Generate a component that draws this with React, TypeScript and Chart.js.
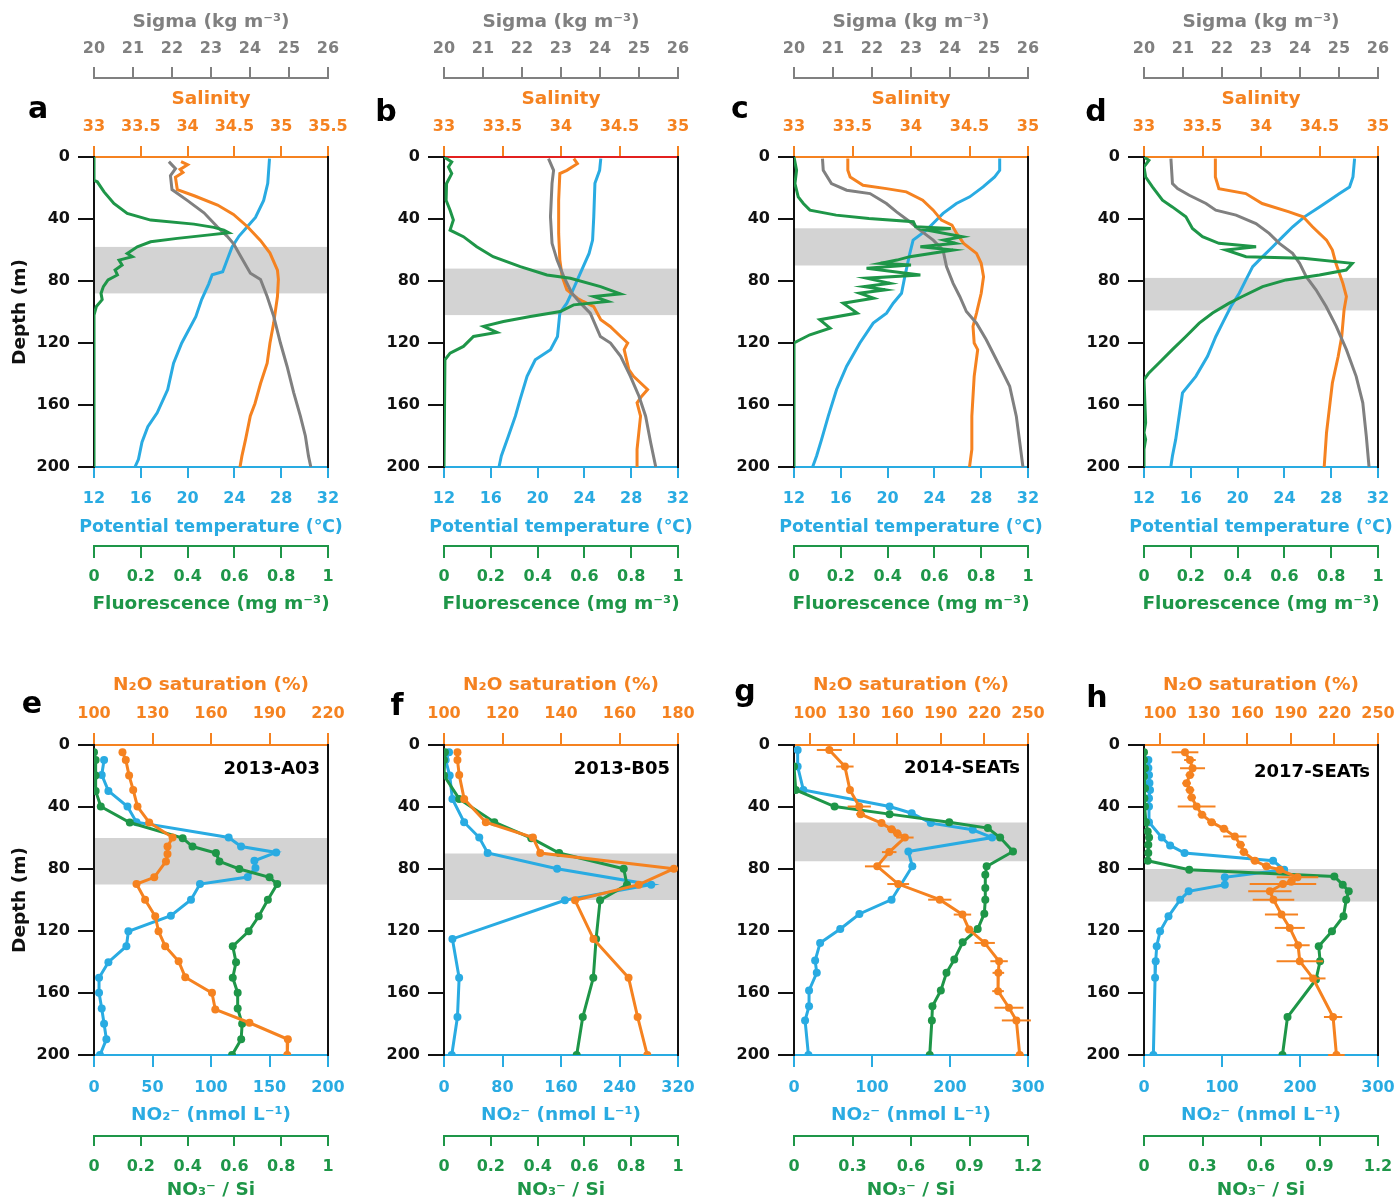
import React, { useEffect, useRef } from "react";
import { Chart, registerables } from "chart.js";

Chart.register(...registerables);

// ---------- tick labels ----------
const SIGMA_TICKS = [20, 21, 22, 23, 24, 25, 26];
const SAL_TICKS_A = [33, 33.5, 34, 34.5, 35, 35.5];
const SAL_TICKS = [33, 33.5, 34, 34.5, 35];
const TEMP_TICKS = [12, 16, 20, 24, 28, 32];
const FLUOR_TICKS = [0, 0.2, 0.4, 0.6, 0.8, 1];
const N2O_TICKS_E = [100, 130, 160, 190, 220];
const N2O_TICKS_F = [100, 120, 140, 160, 180];
const N2O_TICKS_GH = [100, 130, 160, 190, 220, 250];
const NO2_TICKS_E = [0, 50, 100, 150, 200];
const NO2_TICKS_F = [0, 80, 160, 240, 320];
const NO2_TICKS_GH = [0, 100, 200, 300];
const NO3_TICKS_EF = [0, 0.2, 0.4, 0.6, 0.8, 1];
const NO3_TICKS_GH = [0, 0.3, 0.6, 0.9, 1.2];

// ---------- shaded depth bands ----------
const BAND_A = [58, 88];
const BAND_B = [72, 102];
const BAND_C = [46, 70];
const BAND_D = [78, 99];
const BAND_E = [60, 90];
const BAND_F = [70, 100];
const BAND_G = [50, 75];
const BAND_H = [80, 101];

// ---------- panel a ----------
const aTempD = [1, 17, 28, 39, 45, 51, 58, 66, 74, 76, 82, 92, 103, 120, 133, 150, 165, 174, 184, 195, 200];
const aTempV = [27.0, 26.85, 26.5, 25.8, 25.1, 24.4, 23.8, 23.4, 23.0, 22.1, 21.8, 21.2, 20.7, 19.5, 18.8, 18.3, 17.4, 16.6, 16.1, 15.8, 15.5];
const aSalD = [3, 5, 8, 10, 13, 21, 25, 31, 37, 45, 54, 62, 73, 79, 90, 107, 120, 133, 146, 159, 167, 182, 193, 200];
const aSalV = [33.93, 34.0, 33.92, 33.95, 33.87, 33.89, 34.07, 34.32, 34.49, 34.64, 34.78, 34.88, 34.96, 34.97, 34.96, 34.92, 34.88, 34.85, 34.78, 34.72, 34.67, 34.62, 34.58, 34.56];
const aSigD = [3, 7.5, 12, 21, 28, 36, 45, 51, 56, 64, 75, 79, 90, 103, 120, 135, 152, 167, 180, 193, 200];
const aSigV = [21.92, 22.09, 21.96, 22.0, 22.39, 22.82, 23.16, 23.41, 23.58, 23.76, 24.01, 24.27, 24.44, 24.61, 24.78, 24.95, 25.12, 25.29, 25.42, 25.5, 25.56];
const aFlD = [0, 15, 16, 22.5, 30, 36.4, 40.7, 43.3, 45.4, 47.2, 48.9, 50.4, 52.5, 54.7, 57.9, 62.2, 64.3, 66.5, 69.7, 72.9, 76.1, 79.3, 83.6, 88, 92, 96.5, 102, 200];
const aFlV = [0, 0, 0.014, 0.043, 0.085, 0.142, 0.242, 0.427, 0.512, 0.555, 0.576, 0.484, 0.356, 0.242, 0.185, 0.142, 0.164, 0.107, 0.12, 0.09, 0.1, 0.06, 0.04, 0.03, 0.035, 0.01, 0, 0];

// ---------- panel b ----------
const bTempD = [1, 8.6, 17, 38.6, 53.6, 62.2, 70.7, 79.3, 87.9, 94.3, 100.7, 115.8, 124.3, 130.8, 141.5, 156.5, 167.2, 180.1, 192.9, 200];
const bTempV = [25.4, 25.3, 24.9, 24.8, 24.7, 24.4, 23.9, 23.4, 22.9, 22.5, 21.9, 21.7, 21.1, 19.8, 19.1, 18.5, 18.1, 17.5, 16.9, 16.7];
const bSalD = [1, 4.3, 8.6, 10.7, 27.9, 49.3, 66.5, 77.2, 85.7, 91.1, 93.2, 96.5, 105, 109.3, 115.8, 120, 124.3, 137.2, 141.5, 150, 154.3, 158.6, 167.2, 188.6, 200];
const bSalV = [34.11, 34.14, 34.05, 33.99, 33.98, 33.98, 33.99, 34.01, 34.05, 34.14, 34.19, 34.28, 34.34, 34.42, 34.51, 34.57, 34.54, 34.58, 34.62, 34.74, 34.69, 34.65, 34.68, 34.65, 34.65];
const bSigD = [1, 8.6, 17, 38.6, 55.7, 66.5, 77.2, 87.9, 94.3, 100.7, 115.8, 120, 128.6, 141.5, 154.3, 167.2, 184.4, 200];
const bSigV = [22.68, 22.81, 22.77, 22.73, 22.77, 22.9, 23.07, 23.28, 23.5, 23.75, 24.01, 24.27, 24.53, 24.78, 25.0, 25.17, 25.3, 25.43];
const bFlD = [0, 3.2, 6.4, 10.7, 17.1, 27.9, 34.3, 40.7, 47.2, 51.4, 57.9, 64.3, 70.7, 76.1, 78.2, 83.6, 88.3, 90, 93.2, 95.4, 99.7, 102.9, 106.1, 109.3, 113.2, 115.8, 122.2, 126.5, 130.8, 200];
const bFlV = [0, 0.033, 0.019, 0.033, 0.011, 0.009, 0.026, 0.04, 0.026, 0.083, 0.14, 0.21, 0.326, 0.44, 0.54, 0.669, 0.754, 0.64, 0.7, 0.554, 0.497, 0.369, 0.254, 0.169, 0.226, 0.126, 0.083, 0.026, 0.004, 0];

// ---------- panel c ----------
const cTempD = [1, 8.6, 12.9, 19.3, 25.7, 30, 36.4, 41.8, 47.2, 53.6, 62.2, 77.2, 87.9, 94.3, 100.7, 107.2, 120, 135, 150, 167.2, 182.2, 192.9, 200];
const cTempV = [29.58, 29.58, 29.15, 28.16, 27.02, 25.88, 24.74, 24.03, 23.32, 22.18, 21.9, 21.47, 21.19, 20.48, 19.91, 18.77, 17.63, 16.5, 15.64, 14.93, 14.36, 13.93, 13.59];
const cSalD = [1, 8.6, 12.9, 18.2, 20.4, 22.5, 27.9, 34.3, 40.7, 43.9, 49.3, 55.7, 62.2, 68.6, 77.2, 87.9, 100.7, 109.3, 120, 124.3, 141.5, 167.2, 188.6, 200];
const cSalV = [33.46, 33.46, 33.48, 33.59, 33.79, 33.96, 34.1, 34.19, 34.26, 34.35, 34.39, 34.45, 34.56, 34.6, 34.62, 34.6, 34.56, 34.53, 34.54, 34.57, 34.54, 34.52, 34.52, 34.5];
const cSigD = [1, 8.6, 17.1, 21.4, 23.6, 30, 35.4, 41.8, 47.2, 53.6, 60, 70.7, 81.5, 90, 99.7, 107.2, 117.9, 130.8, 139.3, 147.9, 167.2, 184.4, 200];
const cSigV = [20.73, 20.75, 20.96, 21.35, 21.95, 22.37, 22.63, 22.97, 23.23, 23.57, 23.82, 23.91, 24.08, 24.25, 24.42, 24.68, 24.93, 25.19, 25.36, 25.53, 25.7, 25.79, 25.87];
const cFlD = [0, 8.6, 17.1, 25.7, 30, 34.3, 37.5, 39.7, 41.8, 45, 46.1, 47.2, 51.4, 53.6, 55.7, 57.9, 60, 64.3, 66.5, 68.6, 69.7, 71.8, 76.1, 78.2, 81.5, 83.6, 85.7, 87.9, 91.1, 94.3, 100.7, 105, 110.4, 114.7, 117.9, 120, 200];
const cFlV = [0, 0.011, 0.004, 0.018, 0.04, 0.068, 0.18, 0.32, 0.51, 0.52, 0.67, 0.57, 0.72, 0.64, 0.69, 0.54, 0.68, 0.495, 0.44, 0.37, 0.5, 0.31, 0.54, 0.31, 0.41, 0.3, 0.39, 0.28, 0.34, 0.21, 0.27, 0.11, 0.154, 0.068, 0.026, 0, 0];

// ---------- panel d ----------
const dTempD = [1, 12.9, 19.3, 23.6, 27.9, 32.2, 38.6, 45, 51.4, 57.9, 64.3, 70.7, 79.3, 87.9, 96.5, 107.2, 115.8, 128.6, 141.5, 152.2, 167.2, 182.2, 192.9, 200];
const dTempV = [30.0, 29.86, 29.57, 28.71, 27.86, 27.0, 25.71, 24.71, 23.86, 23.0, 22.14, 21.29, 20.71, 20.14, 19.43, 18.71, 18.14, 17.43, 16.43, 15.29, 15.0, 14.71, 14.43, 14.29];
const dSalD = [1, 12.9, 20.4, 23.6, 30, 35.4, 38.6, 45, 53.6, 60, 68.6, 81.5, 90, 98.6, 115.8, 128.6, 145.8, 158.6, 177.9, 200];
const dSalV = [33.61, 33.61, 33.64, 33.87, 34.01, 34.24, 34.36, 34.44, 34.56, 34.61, 34.64, 34.7, 34.73, 34.71, 34.69, 34.66, 34.61, 34.59, 34.56, 34.54];
const dSigD = [1, 17.1, 20.4, 24.7, 30, 34.3, 37.5, 42.9, 49.3, 55.7, 62.2, 68.6, 77.2, 85.7, 96.5, 109.3, 124.3, 141.5, 158.6, 180.1, 200];
const dSigV = [20.69, 20.73, 20.86, 21.16, 21.59, 21.84, 22.36, 22.87, 23.21, 23.47, 23.81, 23.99, 24.16, 24.41, 24.67, 24.93, 25.19, 25.44, 25.61, 25.7, 25.77];
const dFlD = [0, 2.1, 6.4, 12.9, 19.3, 27.9, 32.2, 38.6, 46.1, 51.4, 55.7, 57.9, 60, 64.3, 65.4, 68.6, 72.9, 76.1, 79.3, 83.6, 90, 94.3, 100.7, 107.2, 115.8, 124.3, 132.9, 139.3, 143.6, 171.5, 177.9, 182.2, 188.6, 200];
const dFlV = [0, 0.021, 0, 0.007, 0.036, 0.079, 0.121, 0.179, 0.207, 0.25, 0.32, 0.479, 0.35, 0.436, 0.68, 0.89, 0.864, 0.75, 0.607, 0.507, 0.42, 0.364, 0.293, 0.236, 0.179, 0.121, 0.064, 0.021, 0, 0.007, 0, 0.007, 0, 0];

// ---------- panel e (2013-A03) ----------
const eN2OD = [4.7, 9.7, 19.7, 29, 39.7, 50, 59.7, 65.5, 70.4, 75.1, 85.4, 89.7, 99.8, 110.5, 120.2, 129.8, 139.5, 149.8, 159.9, 170.6, 179.2, 189.9, 200];
const eN2OV = [114.6, 116.3, 118.0, 120.1, 122.3, 128.3, 140.3, 137.7, 137.7, 136.9, 130.9, 121.8, 126.2, 131.4, 133.1, 136.5, 143.4, 146.8, 160.5, 162.2, 179.7, 199.4, 199.1];
const eNO2D = [9.7, 19.3, 29.6, 39.7, 49.8, 59.7, 65.5, 69.3, 74.7, 79.4, 85.2, 89.7, 99.8, 110.1, 120.2, 129.8, 140.1, 150.2, 159.9, 170, 179.8, 189.9, 200];
const eNO2V = [8.6, 6.6, 12.3, 28.6, 36.3, 115.1, 125.7, 155.7, 137.1, 138, 131.4, 90.6, 82.9, 65.7, 29.4, 27.7, 12.3, 4.3, 4.3, 6.6, 8.6, 10.6, 5.1];
const eNO3D = [4.7, 9.7, 19.7, 29.6, 39.7, 50, 60.1, 65.5, 69.7, 75.1, 80, 85.4, 89.7, 99.8, 110.5, 120.2, 129.8, 140.1, 150.2, 159.9, 170, 179.8, 189.9, 200];
const eNO3V = [0, 0.007, 0.007, 0.007, 0.029, 0.153, 0.379, 0.421, 0.521, 0.536, 0.621, 0.75, 0.783, 0.743, 0.704, 0.661, 0.593, 0.607, 0.593, 0.614, 0.614, 0.633, 0.629, 0.59];

// ---------- panel f (2013-B05) ----------
const fN2OD = [4.7, 9.7, 19.3, 34.8, 49.8, 59.7, 69.7, 79.8, 90.1, 100.2, 125.1, 150.2, 175.5, 200];
const fN2OV = [104.6, 104.6, 105.2, 106.9, 114.3, 130.4, 132.9, 178.6, 166.6, 144.8, 151.1, 163.1, 166.2, 169.5];
const fNO2D = [4.7, 9.7, 19.7, 34.8, 49.8, 59.7, 69.7, 79.8, 90.1, 100.2, 125.1, 150.2, 175.5, 200];
const fNO2V = [6.9, 2.3, 7.8, 11.5, 27.5, 48.2, 59.7, 154.7, 283.3, 165.3, 11.5, 20.7, 18.4, 10.6];
const fNO3D = [4.7, 9.7, 19.7, 34.8, 49.8, 60.1, 69.7, 79.8, 90.1, 100.2, 125.1, 150.2, 175.5, 200];
const fNO3V = [0.004, 0, 0, 0.065, 0.215, 0.373, 0.492, 0.768, 0.782, 0.667, 0.65, 0.638, 0.593, 0.567];

// ---------- panel g (2014-SEATs) ----------
const gN2OD = [3.2, 13.9, 29, 39.7, 44.6, 50.4, 54.3, 56.9, 59.7, 69.1, 78.3, 89.7, 99.8, 109.4, 119.1, 127.7, 139.5, 147, 158.8, 169.5, 177.7, 200];
const gN2OV = [113.3, 124.0, 127.5, 133.9, 134.8, 149.2, 156.1, 160.0, 165.3, 154.5, 146.3, 160.7, 189.3, 204.9, 209.5, 220.2, 230.1, 229.6, 229.4, 236.9, 242.0, 244.3];
const gN2OErr = [8.6, 6, 2, 8, 3, 2, 3, 3, 6, 5, 8.5, 7.5, 8, 6, 3, 7, 6, 4, 4, 10, 10, 3];
const gNO2D = [3.2, 13.9, 29, 39.7, 44, 50.4, 54.7, 59.7, 68.7, 78.3, 99.8, 109, 118.7, 127.7, 139.1, 147, 158.4, 168.5, 177.7, 200];
const gNO2V = [4.7, 4.7, 12.0, 122.5, 150.9, 175.4, 229.1, 254.0, 146.6, 151.7, 125.1, 83.8, 59.3, 33.5, 27.1, 29.2, 19.3, 19.3, 14.2, 18.5];
const gNO3D = [13.9, 29, 39.7, 44.6, 49.8, 53.6, 59.7, 68.7, 78.3, 83.7, 92.3, 99.8, 108.8, 118.7, 127.3, 138.4, 147, 158.4, 168.5, 177.7, 200];
const gNO3V = [0, 0.009, 0.208, 0.49, 0.796, 0.994, 1.057, 1.123, 0.988, 0.981, 0.981, 0.981, 0.976, 0.942, 0.865, 0.822, 0.782, 0.753, 0.71, 0.707, 0.696];

// ---------- panel h (2017-SEATs) ----------
const hN2OD = [4.7, 9.7, 15, 19.3, 24.7, 29, 33.9, 39.7, 45, 49.8, 54.1, 59, 64.4, 69.1, 74.7, 78.3, 80.5, 85.4, 88.2, 89.7, 94.4, 99.8, 109.4, 118, 129.2, 139.5, 150.6, 175.5, 200];
const hN2OV = [117.2, 120.6, 122.4, 120.6, 118.3, 120.6, 121.8, 125.2, 128.9, 135.5, 144.0, 151.5, 155.4, 157.7, 165.3, 173.3, 182.4, 194.6, 190.3, 184.6, 175.6, 178.1, 183.6, 189.3, 195.0, 196.2, 205.3, 219.1, 221.4];
const hN2OErr = [9.2, 4, 8.6, 3, 3, 3, 3, 13, 3, 3, 3, 8, 3, 3, 3, 3, 3, 14.3, 3, 22.9, 14.9, 14.3, 11.4, 10.3, 8, 16, 8.6, 6.3, 5.7];
const hNO2D = [9.7, 14.8, 19.3, 24.5, 29, 34.3, 39.7, 49.8, 59.7, 64.8, 69.7, 74.7, 80.5, 85.4, 90.1, 94.4, 99.8, 110.5, 120.2, 129.8, 139.5, 150.2, 200];
const hNO2V = [5.6, 5.6, 6.4, 7, 7.7, 6.4, 6.4, 6.4, 22.8, 33.5, 52.0, 165.5, 179.7, 103.6, 103.6, 57.2, 46.4, 31.4, 20.6, 16.3, 15.0, 14.2, 12.0];
const hNO3D = [4.7, 9.7, 15, 20.4, 27.9, 34.3, 39.7, 49.8, 55.8, 59.7, 64.4, 69.7, 74.7, 80.5, 84.8, 90.1, 94.4, 99.8, 110.5, 120.2, 129.8, 139.5, 151.3, 175.5, 200];
const hNO3V = [0, 0, 0.005, 0, 0.005, 0.002, 0.005, 0.01, 0.019, 0.026, 0.022, 0.022, 0.019, 0.232, 0.976, 1.019, 1.05, 1.037, 1.023, 0.964, 0.896, 0.903, 0.882, 0.736, 0.71];

// ---------- styling ----------
const FONT = "'DejaVu Sans', 'Liberation Sans', sans-serif";
const C_ORANGE = "#F58220";
const C_BLUE = "#29ABE2";
const C_GREEN = "#1E9648";
const C_GRAY = "#808080";
const C_RED = "#E3201F";
const C_BAND = "#D3D3D3";
const C_BLACK = "#111111";
const TITLE_SIZE = 18.5;

type Axis = {
  id: string; position: "top" | "bottom"; weight: number; min: number; max: number;
  ticks: number[]; color: string; border?: string; title: string; height: number;
  tl: number; pad: number; tpt: number; tpb: number; own?: number;
};
type Series = { axis: string; color: string; depth: number[]; vals: number[]; errs?: number[]; dots?: boolean };
type PanelCfg = {
  left: number; top: number; w: number; h: number; axes: Axis[]; series: Series[];
  band: number[]; letter: string; lx: number; ly: number; depthTitle: boolean; tag?: string; tagY?: number;
};

function topAxes(salTicks: number[], salMax: number, salBorder?: string): Axis[] {
  return [
    { id: "sig", position: "top", weight: 1, min: 20, max: 26, ticks: SIGMA_TICKS, color: C_GRAY, title: "Sigma (kg m⁻³)", height: 78, tl: 11, pad: 9, tpt: 11, tpb: 0 },
    { id: "sal", position: "top", weight: 0, min: 33, max: salMax, ticks: salTicks, color: C_ORANGE, border: salBorder, title: "Salinity", height: 79, tl: 11, pad: 10, tpt: 10, tpb: 0 },
    { id: "tem", position: "bottom", weight: 0, min: 12, max: 32, ticks: TEMP_TICKS, color: C_BLUE, title: "Potential temperature (℃)", height: 79, tl: 11, pad: 11, tpt: 0, tpb: 8, own: 17.5 },
    { id: "flu", position: "bottom", weight: 1, min: 0, max: 1, ticks: FLUOR_TICKS, color: C_GREEN, title: "Fluorescence (mg m⁻³)", height: 74, tl: 12, pad: 9, tpt: 0, tpb: 5, own: 18.5 },
  ];
}

function botAxes(nMin: number, nMax: number, nTicks: number[], o2Max: number, o2Ticks: number[], o3Max: number, o3Ticks: number[]): Axis[] {
  return [
    { id: "n2o", position: "top", weight: 0, min: nMin, max: nMax, ticks: nTicks, color: C_ORANGE, title: "N₂O saturation (%)", height: 95, tl: 12, pad: 10, tpt: 24, tpb: 0 },
    { id: "no2", position: "bottom", weight: 0, min: 0, max: o2Max, ticks: o2Ticks, color: C_BLUE, title: "NO₂⁻ (nmol L⁻¹)", height: 81, tl: 12, pad: 11, tpt: 0, tpb: 10 },
    { id: "no3", position: "bottom", weight: 1, min: 0, max: o3Max, ticks: o3Ticks, color: C_GREEN, title: "NO₃⁻ / Si", height: 65, tl: 10, pad: 11, tpt: 0, tpb: 0 },
  ];
}

function topSeries(fd: number[], fv: number[], td: number[], tv: number[], sd: number[], sv: number[], gd: number[], gv: number[]): Series[] {
  return [
    { axis: "flu", color: C_GREEN, depth: fd, vals: fv },
    { axis: "sig", color: C_GRAY, depth: gd, vals: gv },
    { axis: "sal", color: C_ORANGE, depth: sd, vals: sv },
    { axis: "tem", color: C_BLUE, depth: td, vals: tv },
  ];
}

function botSeries(nd: number[], nv: number[], o2d: number[], o2v: number[], o3d: number[], o3v: number[], errs?: number[]): Series[] {
  return [
    { axis: "n2o", color: C_ORANGE, depth: nd, vals: nv, errs, dots: true },
    { axis: "no3", color: C_GREEN, depth: o3d, vals: o3v, dots: true },
    { axis: "no2", color: C_BLUE, depth: o2d, vals: o2v, dots: true },
  ];
}

const TOP_H = 620;
const BOT_TOP = 650;
const BOT_H = 551;

const PANELS: PanelCfg[] = [
  { left: 0, top: 0, w: 350, h: TOP_H, axes: topAxes(SAL_TICKS_A, 35.5), series: topSeries(aFlD, aFlV, aTempD, aTempV, aSalD, aSalV, aSigD, aSigV), band: BAND_A, letter: "a", lx: 38, ly: 118, depthTitle: true },
  { left: 350, top: 0, w: 350, h: TOP_H, axes: topAxes(SAL_TICKS, 35, C_RED), series: topSeries(bFlD, bFlV, bTempD, bTempV, bSalD, bSalV, bSigD, bSigV), band: BAND_B, letter: "b", lx: 36, ly: 121, depthTitle: false },
  { left: 700, top: 0, w: 350, h: TOP_H, axes: topAxes(SAL_TICKS, 35), series: topSeries(cFlD, cFlV, cTempD, cTempV, cSalD, cSalV, cSigD, cSigV), band: BAND_C, letter: "c", lx: 40, ly: 118, depthTitle: false },
  { left: 1050, top: 0, w: 350, h: TOP_H, axes: topAxes(SAL_TICKS, 35), series: topSeries(dFlD, dFlV, dTempD, dTempV, dSalD, dSalV, dSigD, dSigV), band: BAND_D, letter: "d", lx: 46, ly: 121, depthTitle: false },
  { left: 0, top: BOT_TOP, w: 350, h: BOT_H, axes: botAxes(100, 220, N2O_TICKS_E, 200, NO2_TICKS_E, 1, NO3_TICKS_EF), series: botSeries(eN2OD, eN2OV, eNO2D, eNO2V, eNO3D, eNO3V), band: BAND_E, letter: "e", lx: 32, ly: 63, depthTitle: true, tag: "2013-A03", tagY: 24 },
  { left: 350, top: BOT_TOP, w: 350, h: BOT_H, axes: botAxes(100, 180, N2O_TICKS_F, 320, NO2_TICKS_F, 1, NO3_TICKS_EF), series: botSeries(fN2OD, fN2OV, fNO2D, fNO2V, fNO3D, fNO3V), band: BAND_F, letter: "f", lx: 47, ly: 65, depthTitle: false, tag: "2013-B05", tagY: 24 },
  { left: 700, top: BOT_TOP, w: 350, h: BOT_H, axes: botAxes(89, 250, N2O_TICKS_GH, 300, NO2_TICKS_GH, 1.2, NO3_TICKS_GH), series: botSeries(gN2OD, gN2OV, gNO2D, gNO2V, gNO3D, gNO3V, gN2OErr), band: BAND_G, letter: "g", lx: 45, ly: 51, depthTitle: false, tag: "2014-SEATs", tagY: 23 },
  { left: 1050, top: BOT_TOP, w: 350, h: BOT_H, axes: botAxes(89, 250, N2O_TICKS_GH, 300, NO2_TICKS_GH, 1.2, NO3_TICKS_GH), series: botSeries(hN2OD, hN2OV, hNO2D, hNO2V, hNO3D, hNO3V, hN2OErr), band: BAND_H, letter: "h", lx: 47, ly: 57, depthTitle: false, tag: "2017-SEATs", tagY: 27 },
];

const TICK_FONT = { family: FONT, size: 16, weight: "bold" as const };
const TITLE_FONT = { family: FONT, size: TITLE_SIZE, weight: "bold" as const };

function axisOptions(a: Axis) {
  return {
    type: "linear",
    position: a.position,
    weight: a.weight,
    min: a.min,
    max: a.max,
    afterBuildTicks: (s: any) => {
      s.ticks = a.ticks.map((v) => ({ value: v }));
    },
    afterFit: (s: any) => {
      s.height = a.height;
      s.paddingLeft = 0;
      s.paddingRight = 0;
    },
    grid: { display: true, drawOnChartArea: false, drawTicks: true, tickLength: a.tl, color: a.color, lineWidth: 2 },
    border: { display: true, color: a.border || a.color, width: 2 },
    ticks: {
      color: a.color,
      font: TICK_FONT,
      padding: a.pad,
      maxRotation: 0,
      minRotation: 0,
      autoSkip: false,
      callback: (v: any) => String(v),
    },
    title: { display: !a.own, text: a.title, color: a.color, font: TITLE_FONT, padding: { top: a.tpt, bottom: a.tpb } },
  };
}

function buildConfig(p: PanelCfg): any {
  const scales: any = {};
  for (const a of p.axes) scales[a.id] = axisOptions(a);
  scales.y = {
    type: "linear",
    position: "left",
    reverse: true,
    min: 0,
    max: 200,
    afterFit: (s: any) => {
      s.width = 94;
    },
    grid: { display: true, drawOnChartArea: false, drawTicks: true, tickLength: 16, color: C_BLACK, lineWidth: 2 },
    border: { display: true, color: C_BLACK, width: 2 },
    ticks: { stepSize: 40, color: C_BLACK, font: TICK_FONT, padding: 8, autoSkip: false },
    title: { display: p.depthTitle, text: "Depth (m)", color: C_BLACK, font: TITLE_FONT, padding: { top: 9, bottom: 0 } },
  };

  const datasets = p.series.map((s) => ({
    xAxisID: s.axis,
    yAxisID: "y",
    data: s.depth.map((d, i) => ({ x: s.vals[i], y: d })),
    showLine: true,
    borderColor: s.color,
    backgroundColor: s.color,
    borderWidth: 3,
    pointRadius: s.dots ? 4 : 0,
    pointHoverRadius: 0,
    pointBorderWidth: 0,
    pointBackgroundColor: s.color,
    tension: 0,
    fill: false,
  }));

  const deco = {
    id: "deco",
    beforeDatasetsDraw(chart: any) {
      const { ctx, chartArea: ca, scales: sc } = chart;
      const y1 = sc.y.getPixelForValue(p.band[0]);
      const y2 = sc.y.getPixelForValue(p.band[1]);
      ctx.save();
      ctx.fillStyle = C_BAND;
      ctx.fillRect(ca.left + 1, y1, ca.right - ca.left - 2, y2 - y1);
      ctx.strokeStyle = C_BLACK;
      ctx.lineWidth = 2;
      ctx.beginPath();
      ctx.moveTo(ca.right, ca.top - 1);
      ctx.lineTo(ca.right, ca.bottom + 1);
      ctx.stroke();
      ctx.restore();
    },
    afterDatasetsDraw(chart: any) {
      const { ctx, scales: sc } = chart;
      ctx.save();
      for (const s of p.series) {
        if (!s.errs) continue;
        const xs = sc[s.axis];
        ctx.strokeStyle = s.color;
        ctx.lineWidth = 2;
        s.depth.forEach((d, i) => {
          const yy = sc.y.getPixelForValue(d);
          ctx.beginPath();
          ctx.moveTo(xs.getPixelForValue(s.vals[i] - s.errs![i]), yy);
          ctx.lineTo(xs.getPixelForValue(s.vals[i] + s.errs![i]), yy);
          ctx.stroke();
        });
      }
      ctx.restore();
    },
    afterDraw(chart: any) {
      const { ctx, chartArea: ca, scales: sc } = chart;
      ctx.save();
      // axis titles wider than the plot, drawn without squeezing
      for (const a of p.axes) {
        if (!a.own) continue;
        const s = sc[a.id];
        const half = (a.own * 1.2) / 2;
        const y = a.position === "bottom" ? s.bottom - a.tpb - half : s.top + a.tpt + half;
        ctx.font = "bold " + a.own + "px " + FONT;
        ctx.fillStyle = a.color;
        ctx.textAlign = "center";
        ctx.textBaseline = "middle";
        ctx.fillText(a.title, (s.left + s.right) / 2, y);
      }
      ctx.fillStyle = "#000";
      ctx.font = "bold 30px " + FONT;
      ctx.textAlign = "center";
      ctx.textBaseline = "alphabetic";
      ctx.fillText(p.letter, p.lx, p.ly);
      if (p.tag) {
        ctx.font = "bold 18px " + FONT;
        ctx.textAlign = "right";
        ctx.textBaseline = "middle";
        ctx.fillText(p.tag, ca.right - 8, ca.top + (p.tagY || 24));
      }
      ctx.restore();
    },
  };

  return {
    type: "scatter",
    data: { datasets },
    options: {
      responsive: false,
      maintainAspectRatio: false,
      animation: false,
      devicePixelRatio: 1,
      events: [],
      layout: { padding: { left: 0, right: 22, top: 0, bottom: 0 }, autoPadding: false },
      plugins: { legend: { display: false }, tooltip: { enabled: false } },
      scales,
    },
    plugins: [deco],
  };
}

function Panel({ cfg }: { cfg: PanelCfg }) {
  const ref = useRef<HTMLCanvasElement>(null);
  useEffect(() => {
    const chart = new Chart(ref.current as HTMLCanvasElement, buildConfig(cfg));
    return () => chart.destroy();
  }, [cfg]);
  return (
    <canvas
      ref={ref}
      width={cfg.w}
      height={cfg.h}
      style={{ position: "absolute", left: cfg.left, top: cfg.top, width: cfg.w, height: cfg.h, display: "block" }}
    />
  );
}

export default function App() {
  return (
    <div style={{ position: "absolute", left: 0, top: 0, width: 1400, height: 1201, background: "#fff", overflow: "hidden" }}>
      {PANELS.map((p, i) => (
        <Panel key={i} cfg={p} />
      ))}
    </div>
  );
}
